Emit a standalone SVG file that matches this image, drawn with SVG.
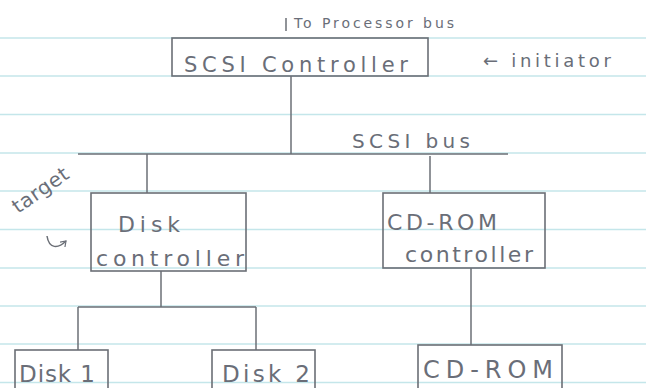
<svg xmlns="http://www.w3.org/2000/svg" width="646" height="388" viewBox="0 0 646 388">
<style>
.rule{stroke:#c4e6ea;stroke-width:1.6}
.box{fill:none;stroke:#6b6f76;stroke-width:1.6}
.ln{fill:none;stroke:#6b6f76;stroke-width:1.5}
.t{font-family:"DejaVu Sans","Liberation Sans",sans-serif;fill:#6a6e78;font-weight:normal}
</style>
<defs>
<marker id="ah" markerWidth="8" markerHeight="8" refX="5" refY="4" orient="auto" markerUnits="userSpaceOnUse">
<path d="M0,0.5 L5,4 L0,7.5" fill="none" stroke="#6a6e78" stroke-width="1.2"/>
</marker>
</defs>
<rect width="646" height="388" fill="#ffffff"/>
<g id="paper">
<line class="rule" x1="0" y1="38" x2="646" y2="38"/>
<line class="rule" x1="0" y1="76" x2="646" y2="76"/>
<line class="rule" x1="0" y1="114.5" x2="646" y2="114.5"/>
<line class="rule" x1="0" y1="153" x2="646" y2="153"/>
<line class="rule" x1="0" y1="191" x2="646" y2="191"/>
<line class="rule" x1="0" y1="229.5" x2="646" y2="229.5"/>
<line class="rule" x1="0" y1="268" x2="646" y2="268"/>
<line class="rule" x1="0" y1="306" x2="646" y2="306"/>
<line class="rule" x1="0" y1="344" x2="646" y2="344"/>
<line class="rule" x1="0" y1="382.5" x2="646" y2="382.5"/>
</g>
<g id="connectors">
<line class="ln" x1="286" y1="18" x2="286" y2="31"/>
<line class="ln" x1="291" y1="76" x2="291" y2="154"/>
<line class="ln" x1="78" y1="154" x2="508" y2="154"/>
<line class="ln" x1="147" y1="154" x2="147" y2="193"/>
<line class="ln" x1="430" y1="156" x2="430" y2="193"/>
<line class="ln" x1="161" y1="271" x2="161" y2="307"/>
<line class="ln" x1="78" y1="307" x2="256" y2="307"/>
<line class="ln" x1="78" y1="307" x2="78" y2="350"/>
<line class="ln" x1="256" y1="307" x2="256" y2="350"/>
<line class="ln" x1="471" y1="268" x2="471" y2="345"/>
</g>
<g id="labels">
<text class="t" x="294" y="28" font-size="14" textLength="160">To Processor bus</text>
<text class="t" x="483" y="67" font-size="18" textLength="128">← initiator</text>
<text class="t" x="352" y="148" font-size="20" textLength="118">SCSI bus</text>
<text class="t" font-size="20" transform="translate(18,214) rotate(-35)" textLength="64">target</text>
<path class="ln" d="M47,236 C49,249 58,249 66,241" marker-end="url(#ah)"/>
</g>
<g id="scsi-controller">
<rect class="box" x="172" y="38" width="256" height="38"/>
<text class="t" x="184" y="72" font-size="21" textLength="224">SCSI Controller</text>
</g>
<g id="disk-controller">
<rect class="box" x="91" y="193" width="155" height="78"/>
<text class="t" x="118" y="232" font-size="22" textLength="62">Disk</text>
<text class="t" x="96" y="266" font-size="22" textLength="148">controller</text>
</g>
<g id="cdrom-controller">
<rect class="box" x="383" y="193" width="162" height="75"/>
<text class="t" x="387" y="230" font-size="22" textLength="110">CD-ROM</text>
<text class="t" x="405" y="262" font-size="22" textLength="128">controller</text>
</g>
<g id="disk1">
<rect class="box" x="15" y="350" width="93" height="48"/>
<text class="t" x="19" y="382" font-size="23" textLength="76">Disk 1</text>
</g>
<g id="disk2">
<rect class="box" x="212" y="350" width="103" height="48"/>
<text class="t" x="222" y="382" font-size="23" textLength="88">Disk 2</text>
</g>
<g id="cdrom">
<rect class="box" x="418" y="345" width="144" height="53"/>
<text class="t" x="423" y="378" font-size="24" textLength="130">CD-ROM</text>
</g>
</svg>
